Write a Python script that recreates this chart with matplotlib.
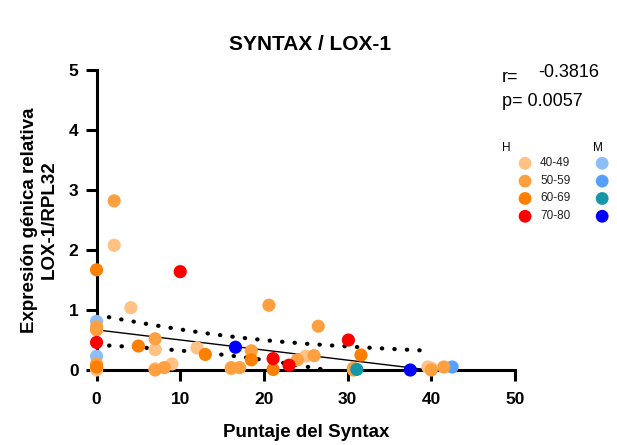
import numpy as np
import matplotlib
matplotlib.use('Agg')
import matplotlib.pyplot as plt

plt.rcParams['font.family'] = ['Liberation Sans', 'DejaVu Sans']

# data: (syntax score, relative expression) per group
h_40_49_x = [2.1, 4.1, 7.0, 9.0, 12.0, 25.0, 0.0, 39.6, 16.1, 40.0, 7.0]
h_40_49_y = [2.08, 1.04, 0.34, 0.10, 0.37, 0.23, 0.0, 0.05, 0.02, 0.03, 0.02]
h_50_59_x = [2.1, 7.0, 7.0, 8.1, 16.1, 17.1, 18.5, 20.6, 26.5, 24.0, 26.0, 30.7, 40.0, 41.5, 0.0, 0.0, 0.0, 30.7]
h_50_59_y = [2.82, 0.52, 0.0, 0.04, 0.04, 0.04, 0.32, 1.08, 0.73, 0.17, 0.24, 0.03, 0.0, 0.05, 0.72, 0.67, 0.10, 0.0]
h_60_69_x = [0.0, 5.0, 13.0, 18.5, 21.1, 31.6, 0.0]
h_60_69_y = [1.67, 0.40, 0.26, 0.17, 0.01, 0.25, 0.05]
h_70_80_x = [10.0, 0.0, 21.1, 23.0, 30.1]
h_70_80_y = [1.64, 0.46, 0.19, 0.08, 0.50]
m_40_49_x = [0.0, 0.0]
m_40_49_y = [0.81, 0.23]
m_50_59_x = [42.5]
m_50_59_y = [0.05]
m_60_69_x = [31.1]
m_60_69_y = [0.01]
m_70_80_x = [16.6, 37.5, 0.0]
m_70_80_y = [0.38, 0.0, 0.02]

age_groups = ['40-49', '50-59', '60-69', '70-80']
h_colors = ['#FFC184', '#FFA040', '#FF8000', '#FF0000']
m_colors = ['#8DBEF8', '#55A0FF', '#1597A8', '#0000FF']

h_groups = [(h_40_49_x, h_40_49_y), (h_50_59_x, h_50_59_y), (h_60_69_x, h_60_69_y), (h_70_80_x, h_70_80_y)]
m_groups = [(m_40_49_x, m_40_49_y), (m_50_59_x, m_50_59_y), (m_60_69_x, m_60_69_y), (m_70_80_x, m_70_80_y)]

fig = plt.figure(figsize=(6.17, 4.45), dpi=100)
ax = fig.add_axes([0.1565, 0.1685, 0.678, 0.674])

# points (blue group drawn first so it sits behind the stacked ones, teal on top)
m_z = [3, 3, 4, 3]
for (gx, gy), c, z in zip(m_groups, m_colors, m_z):
    ax.scatter(gx, gy, s=90, color=c, edgecolors='none', clip_on=False, zorder=z)
for (gx, gy), c in zip(h_groups, h_colors):
    ax.scatter(gx, gy, s=90, color=c, edgecolors='none', clip_on=False, zorder=3)

# linear fit + 95% confidence band
all_x = np.array(sum([g[0] for g in h_groups + m_groups], []))
all_y = np.array(sum([g[1] for g in h_groups + m_groups], []))
n = len(all_x)
slope, intercept = np.polyfit(all_x, all_y, 1)
xs = np.linspace(0, all_x.max(), 200)
fit = intercept + slope * xs
resid = all_y - (intercept + slope * all_x)
s_err = np.sqrt(np.sum(resid ** 2) / (n - 2))
band = 2.01 * s_err * np.sqrt(1 / n + (xs - all_x.mean()) ** 2 / np.sum((all_x - all_x.mean()) ** 2))
ax.plot(xs, fit, color='black', lw=1, zorder=2)
keep = xs <= 40
ax.plot(xs[keep], (fit + band)[keep], color='black', lw=3, ls=(0, (0.1, 2.9)),
        dash_capstyle='round', zorder=2)
ax.plot(xs, fit - band, color='black', lw=3, ls=(0, (0.1, 2.9)),
        dash_capstyle='round', zorder=2)

ax.set_xlim(0, 50)
ax.set_ylim(0, 5)
ax.set_xticks([0, 10, 20, 30, 40, 50])
ax.set_yticks([0, 1, 2, 3, 4, 5])
for side in ['top', 'right']:
    ax.spines[side].set_visible(False)
for side in ['left', 'bottom']:
    ax.spines[side].set_linewidth(2.2)
ax.tick_params(width=2.2, length=8, labelsize=12.5, pad=5)
ax.tick_params(axis='x', pad=8)
for lab in ax.get_xticklabels() + ax.get_yticklabels():
    lab.set_fontweight('bold')

ax.set_xlabel('Puntaje del Syntax', fontsize=13.5, fontweight='bold', labelpad=12)
ax.set_ylabel('Expresión génica relativa\nLOX-1/RPL32', fontsize=13.5, fontweight='bold', labelpad=8)
fig.text(0.503, 0.899, 'SYNTAX / LOX-1', ha='center', va='center', fontsize=15, fontweight='bold')

fig.text(0.814, 0.826, 'r=', fontsize=13, va='center')
fig.text(0.872, 0.838, '-0.3816', fontsize=13, va='center')
fig.text(0.814, 0.772, 'p= 0.0057', fontsize=13, va='center')

# legend
fig.text(0.820, 0.668, 'H', fontsize=8.5, ha='center', va='center')
fig.text(0.969, 0.668, 'M', fontsize=8.5, ha='center', va='center')
row_y = [0.633, 0.593, 0.554, 0.514]
for i, g in enumerate(age_groups):
    fig.text(0.90, row_y[i], g, fontsize=8.5, ha='center', va='center', color='#222222')
lax = fig.add_axes([0, 0, 1, 1], facecolor='none')
lax.set_xlim(0, 1)
lax.set_ylim(0, 1)
lax.axis('off')
lax.scatter([0.851] * 4, row_y, s=85, color=h_colors, edgecolors='none')
lax.scatter([0.976] * 4, row_y, s=85, color=m_colors, edgecolors='none')

fig.savefig('out.png', dpi=100)
